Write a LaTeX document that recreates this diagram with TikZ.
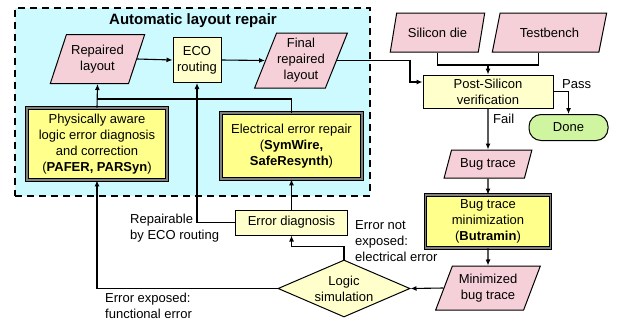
\documentclass[tikz,border=0pt]{standalone}
\usepackage{fontspec}
\setmainfont{Liberation Sans}
\usetikzlibrary{shapes.geometric,arrows.meta,calc}
\definecolor{cyanbg}{RGB}{204,250,255}
\definecolor{pinkf}{RGB}{246,208,216}
\definecolor{lyel}{RGB}{255,255,204}
\definecolor{byel}{RGB}{255,255,140}
\definecolor{greenf}{RGB}{208,245,160}
\begin{document}
\begin{tikzpicture}[x=1pt,y=-1pt,
  every node/.style={font=\fontsize{13}{16}\selectfont, inner sep=0pt, align=center},
  para/.style={trapezium, trapezium left angle=64, trapezium right angle=116, trapezium stretches=true, draw, fill=pinkf, line width=1pt},
  plainbox/.style={rectangle, draw, fill=lyel, line width=1pt},
  dblbox/.style={rectangle, draw=black, double=gray, double distance=1.8pt, line width=0.8pt, fill=byel},
  arr/.style={-{Latex[length=6pt,width=5pt]}, line width=1.1pt},
  conn/.style={line width=1.1pt},
  lab/.style={align=left}
]
\useasboundingbox (0,0) rectangle (618,322);
\node[draw, dash pattern=on 7pt off 5pt, line width=1.6pt, fill=cyanbg, minimum width=355pt, minimum height=188pt] (frame) at (192.5,102) {};
\node (title) at (193,21) {\bfseries\fontsize{15}{17}\selectfont Automatic layout repair};

\node[para, minimum width=95pt, minimum height=49pt] (rl) at (97.5,59) {Repaired\\layout};
\node[plainbox, minimum width=48pt, minimum height=45pt] (eco) at (197,60) {ECO\\routing};
\node[para, minimum width=93pt, minimum height=55pt] (frl) at (301,60.5) {Final\\repaired\\layout};
\node[dblbox, minimum width=140pt, minimum height=72pt] (pafer) at (97,144) {Physically aware\\logic error diagnosis\\and correction\\(\textbf{PAFER, PARSyn})};
\node[dblbox, minimum width=141pt, minimum height=66pt] (elec) at (291.5,146) {Electrical error repair\\(\textbf{SymWire,}\\\textbf{SafeResynth})};
\node[plainbox, minimum width=112pt, minimum height=25pt] (ed) at (291.5,222.5) {Error diagnosis};
\node[para, minimum width=95pt, minimum height=39pt] (sd) at (437.5,32.5) {Silicon die};
\node[para, minimum width=115pt, minimum height=39pt] (tb) at (549.5,32.5) {Testbench};
\node[plainbox, minimum width=130pt, minimum height=33pt] (psv) at (488,91.5) {Post-Silicon\\verification};
\node[draw, fill=greenf, rounded corners=12pt, minimum width=79pt, minimum height=26pt, line width=1pt] (done) at (568.5,127.5) {Done};
\node[para, minimum width=88pt, minimum height=28pt] (bt) at (488,164) {Bug trace};
\node[dblbox, minimum width=125pt, minimum height=53pt] (btm) at (488,221.5) {Bug trace\\minimization\\(\textbf{Butramin})};
\node[para, minimum width=105pt, minimum height=44pt] (mbt) at (488,288) {Minimized\\bug trace};
\node[diamond, draw, fill=lyel, line width=1pt, minimum width=132pt, minimum height=57pt, aspect=2.3] (ls) at (344,288.5) {Logic\\simulation};

\draw[arr] (rl.east) -- (eco.west);
\draw[arr] (eco.east) -- (frl.west);
\coordinate (j1) at (410,82);
\draw[arr] (frl.east) -| (j1) -- (j1 -| psv.west);
\coordinate (j2) at (488,65);
\draw[conn] (sd.south) |- (j2);
\draw[conn] ($(tb.south)+(-11,0)$) |- (j2);
\draw[arr] (j2) -- (j2 |- psv.north);
\draw[arr] (psv.east) -| (done.north);
\node[lab, anchor=west] (pass) at (562,84) {Pass};
\draw[arr] (psv.south) -- (bt.north);
\node[lab, anchor=west] (fail) at (493,119) {Fail};
\draw[arr] (bt.south) -- (btm.north);
\draw[arr] (btm.south) -- (mbt.north);
\draw[arr] (mbt.west) -- (ls.east);
\draw[arr] (ls.west) -| (pafer.south);
\draw[arr] (ls.north) -- ++(0,-13) -| (ed.south);
\draw[arr] (ed.north) -- (elec.south);
\draw[arr] (ed.west) -| (eco.south);
\draw[arr] (pafer.north) -- (rl.south);
\coordinate (j3) at (97,99);
\draw[conn] (elec.north) |- (j3);

\node[lab, anchor=west] (rep) at (130,228) {Repairable\\by ECO routing};
\node[lab, anchor=west] (ene) at (355,241) {Error not\\exposed:\\electrical error};
\node[lab, anchor=west] (efe) at (105,306) {Error exposed:\\functional error};
\end{tikzpicture}
\end{document}
